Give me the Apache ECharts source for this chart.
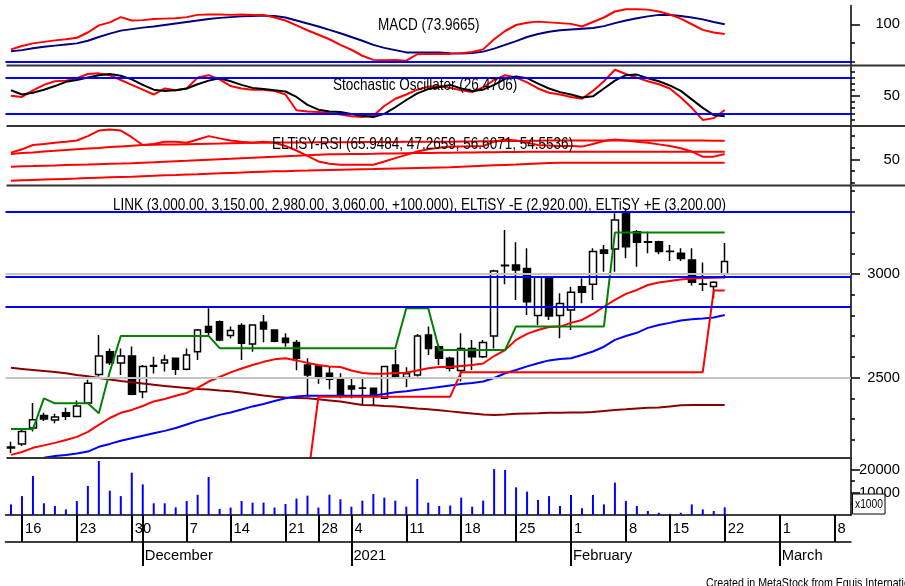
<!DOCTYPE html>
<html><head><meta charset="utf-8">
<script src="https://cdn.jsdelivr.net/npm/echarts@6/dist/echarts.min.js"></script>
<style>html,body{margin:0;padding:0;background:#fff;}#c{width:905px;height:586px;}</style>
</head><body><div id="c"></div>
<script>
// ---------- DATA ----------
const dates = ['2020-11-13','2020-11-16','2020-11-17','2020-11-18','2020-11-19','2020-11-20','2020-11-23','2020-11-24','2020-11-25','2020-11-26','2020-11-27','2020-11-30',
'2020-12-01','2020-12-02','2020-12-03','2020-12-04','2020-12-07','2020-12-08','2020-12-10','2020-12-11','2020-12-14','2020-12-15','2020-12-16','2020-12-17','2020-12-18','2020-12-21','2020-12-22','2020-12-23','2020-12-28','2020-12-29','2020-12-30',
'2021-01-04','2021-01-05','2021-01-06','2021-01-07','2021-01-08','2021-01-11','2021-01-12','2021-01-13','2021-01-14','2021-01-15','2021-01-18','2021-01-19','2021-01-20','2021-01-21','2021-01-22','2021-01-25','2021-01-26','2021-01-27','2021-01-28','2021-01-29',
'2021-02-01','2021-02-02','2021-02-03','2021-02-04','2021-02-05','2021-02-08','2021-02-09','2021-02-10','2021-02-11','2021-02-15','2021-02-16','2021-02-17','2021-02-18','2021-02-19','2021-02-22'];
const futureDates = ['2021-02-23','2021-02-24','2021-02-25','2021-02-26','2021-03-01','2021-03-02','2021-03-03','2021-03-04','2021-03-05','2021-03-08','2021-03-09'];
const monthNames = ['January','February','March','April','May','June','July','August','September','October','November','December'];

const open  = [2160,2180,2257,2317,2295,2330,2312,2378,2515,2625,2570,2604,2432,2555,2570,2593,2540,2625,2746,2770,2703,2751,2662,2767,2730,2690,2669,2561,2556,2521,2492,2460,2448,2449,2400,2561,2500,2513,2706,2649,2593,2534,2641,2601,2701,3040,3043,3027,2800,2987,2800,2826,2939,2950,3116,3121,3300,3204,3155,3156,3110,3100,3068,2950,2940,3000];
const high  = [2190,2250,2378,2330,2325,2355,2390,2490,2706,2641,2641,2650,2561,2600,2610,2595,2641,2735,2835,2775,2746,2762,2757,2802,2732,2714,2682,2593,2560,2556,2521,2497,2497,2452,2556,2633,2550,2710,2746,2658,2601,2714,2682,2682,3020,3212,3153,3124,2990,2990,2907,2939,2979,3124,3140,3293,3317,3212,3204,3160,3140,3124,3124,3056,2965,3150];
const low   = [2135,2170,2240,2290,2280,2295,2310,2373,2505,2561,2513,2415,2400,2520,2530,2513,2535,2585,2706,2675,2690,2585,2625,2671,2671,2649,2535,2408,2470,2444,2400,2400,2368,2368,2395,2497,2453,2505,2609,2561,2529,2481,2537,2595,2640,2950,2875,2802,2754,2778,2690,2730,2859,2875,3011,3011,3076,3035,3100,3095,3063,3063,2944,2918,2883,2980];
const close = [2165,2240,2296,2300,2310,2313,2363,2473,2604,2572,2604,2420,2553,2558,2585,2540,2609,2730,2719,2682,2727,2666,2754,2735,2676,2669,2593,2513,2502,2492,2416,2445,2450,2420,2553,2505,2518,2701,2641,2593,2545,2641,2601,2669,3014,3042,3019,2866,2987,2797,2857,2912,2912,3108,3100,3260,3132,3153,3153,3108,3108,3075,2960,2952,2960,3060];
const volume = [4700,8400,17300,5200,4000,2500,6200,12900,24000,10800,8400,18800,13600,5200,5200,3400,6200,9000,16900,2700,3300,6200,5500,5500,3300,4900,7300,8600,3300,9000,7000,3700,6400,9300,7700,6400,3700,16000,5500,4000,4200,7700,3700,6400,20400,20000,12300,10400,6700,8400,4000,8900,3000,8900,4700,14400,6200,4000,1800,1000,500,1000,4700,2500,1800,3400];

const maFast = [2127,2141,2161,2173,2185,2199,2214,2238,2272,2305,2330,2344,2363,2385,2397,2412,2426,2450,2481,2503,2525,2544,2561,2576,2588,2593,2583,2571,2561,2554,2551,2534,2522,2518,2518,2522,2523,2534,2545,2551,2551,2556,2561,2568,2604,2633,2682,2711,2730,2744,2746,2764,2778,2807,2842,2875,2904,2923,2947,2959,2966,2973,2978,2981,2982,2983];
const maMid  = [2088,2098,2105,2113,2122,2127,2134,2143,2166,2180,2195,2207,2219,2231,2243,2257,2274,2291,2305,2320,2332,2346,2361,2373,2387,2400,2409,2413,2413,2413,2413,2413,2413,2414,2421,2429,2434,2441,2448,2455,2462,2469,2474,2481,2498,2521,2537,2554,2569,2583,2590,2593,2609,2626,2649,2682,2701,2716,2740,2754,2764,2776,2781,2785,2790,2802];
const maSlow = [2547,2542,2537,2532,2527,2521,2513,2506,2498,2491,2484,2478,2472,2465,2460,2455,2450,2445,2443,2438,2434,2428,2421,2414,2408,2404,2402,2400,2395,2390,2385,2376,2368,2366,2363,2361,2356,2351,2347,2342,2337,2332,2327,2322,2320,2322,2325,2327,2328,2330,2330,2331,2332,2334,2339,2344,2347,2351,2354,2356,2361,2366,2368,2368,2368,2368];
const eltisyPlus  = [2252,2252,2252,2400,2376,2376,2376,2376,2328,2529,2701,2701,2701,2701,2701,2701,2701,2701,2701,2642,2642,2642,2642,2642,2642,2642,2642,2642,2642,2642,2642,2642,2642,2642,2642,2642,2835,2835,2835,2633,2633,2633,2633,2633,2633,2633,2747,2747,2747,2747,2747,2747,2747,2747,2747,3200,3200,3200,3200,3200,3200,3200,3200,3200,3200,3200];
const eltisyMinus = [null,null,null,null,null,null,null,null,null,null,null,null,null,null,null,null,null,null,null,null,null,null,null,null,null,null,null,2000,2408,2408,2408,2408,2408,2408,2408,2408,2408,2408,2408,2408,2408,2526,2526,2526,2526,2526,2526,2526,2526,2526,2526,2526,2526,2526,2526,2526,2526,2526,2526,2526,2526,2526,2526,2526,2920,2920];
const priceLevels = [3300, 2985, 2840];
const priceGrey = [3000, 2500];

const macd   = [33,42,49,53,57,60,64,78,97,105,119,110,111,114,115,116,119,125,126,126,125,126,125,125,118,110,97,84,72,60,45,32,16,5,4,5,3,20,21,21,21,23,26,33,60,82,98,104,107,105,103,101,94,106,118,134,140,140,139,134,126,115,100,85,78,73.9665];
const signal = [28,31,36,40,43,46,49,56,66,75,83,87,91,94,98,102,106,110,114,117,119,121,122,123,122,118,110,102,94,85,76,66,56,45,37,31,25,25,25,25,23,22,23,27,35,45,55,66,74,80,84,86,88,90,95,103,110,116,121,125,125,122,118,113,106,100];
const stochK = [50,48,59,68,74,75,79,86,87,84,76,68,60,52,62,59,62,80,84,77,66,62,60,60,58,52,26,24,23,21,19,16,15,17,33,45,52,60,65,66,63,59,56,64,76,84,80,72,62,55,52,48,45,58,74,93,86,80,74,69,62,47,30,10,13,26.4706];
const stochD = [59,52,55,60,66,73,76,80,84,86,83,77,68,60,58,59,62,69,75,79,74,68,63,61,59,57,48,35,27,24,23,20,17,15,20,31,43,54,61,64,68,62,58,60,68,78,82,79,70,62,56,52,47,49,62,75,84,85,79,74,67,58,44,30,18,16];
const rsi    = [55.8,58.6,62.3,63.2,64.2,65.1,66.1,69.8,74.5,75.4,74.5,68.9,62.3,63.2,65.1,65.1,64.2,67,69.8,67.9,66.1,65.1,64.2,65.1,64.2,61.4,57.6,53,48.3,46.4,45.5,45.5,45.5,45.5,48.3,51.1,53.9,56.7,58.6,60,60.9,60.9,61.2,61.4,65.1,67,66.1,64.2,62.3,61.9,61.4,61.4,60.9,63.2,65.6,67,66.1,65.1,64.2,62.8,61.4,59.5,56.7,52.4,52.4,54.5536];
const rsiB   = [54.7,55.4,56,56.7,57.3,58,58.6,59.2,59.8,60.5,61.1,61.7,62.3,62.5,62.7,62.8,63,63.2,63.4,63.5,63.7,63.9,64.1,64.2,64.3,64.4,64.5,64.5,64.6,64.6,64.7,64.7,64.8,64.8,64.9,64.9,65,65,65,65.1,65.1,65.2,65.3,65.4,65.5,65.6,65.7,65.8,65.9,66,66,66,66,66,66,66,66,66,66,66,66,66,66,66,65.95,65.9484];
const rsiC   = [43.9,44.2,44.4,44.7,44.9,45.2,45.5,45.7,46,46.3,46.5,46.8,47.2,47.6,48.1,48.5,48.9,49.4,49.8,50.2,50.6,51.1,51.5,51.9,52.3,52.7,53.1,53.6,54,54.4,54.5,54.6,54.7,54.8,55,55.1,55.3,55.4,55.5,55.7,55.8,55.9,56,56.1,56.2,56.3,56.4,56.5,56.5,56.6,56.6,56.6,56.6,56.6,56.6,56.6,56.6,56.6,56.6,56.6,56.6,56.6,56.6,56.6,56.6,56.6071];
const rsiD   = [32,32.3,32.6,32.9,33.2,33.5,33.8,34.2,34.5,34.8,35.1,35.4,35.8,36.1,36.5,36.8,37.2,37.5,37.9,38.2,38.6,38.9,39.3,39.6,39.9,40.1,40.4,40.6,40.9,41.1,41.3,41.5,41.7,41.9,42.2,42.4,42.6,42.8,43,43.2,43.4,43.8,44.2,44.6,45,45.4,45.7,46.1,46.5,46.9,47.3,47.3,47.3,47.3,47.3,47.3,47.3,47.3,47.3,47.3,47.3,47.3,47.3,47.3,47.3,47.2659];

const macdTicks = {minor:[0,50], major:[100]};
const stochTicks = {minor:[10,20,30,40,60,70,80,90], major:[50]};
const stochLevels = [80, 20];
const rsiTicks = {minor:[30,40,60,70], major:[50]};
const priceTicks = {minor:[2200,2300,2400,2600,2700,2800,2900,3100,3200,3300,3400], major:[2500,3000]};
const volTicks = {minor:[5000,15000], major:[10000,20000]};

// ---------- FONT ----------
function hasFont(name){
  const ctx=document.createElement('canvas').getContext('2d');
  const s='mmmmmmmmmmlli1WQ0123456789abcdef';
  let diff=false;
  ['monospace','serif'].forEach(b=>{
    ctx.font='72px '+b; const a=ctx.measureText(s).width;
    ctx.font='72px "'+name+'", '+b; const c=ctx.measureText(s).width;
    if(Math.abs(a-c)>0.5) diff=true;
  });
  return diff;
}
const NARROW = hasFont('Liberation Sans Narrow');
const FF = NARROW ? '"Liberation Sans Narrow", "Liberation Sans", sans-serif' : '"Liberation Sans", Arial, sans-serif';
const K = NARROW ? 1 : 0.82;   // axis label size factor when no narrow face exists
const SX = NARROW ? 1 : 0.82;  // horizontal squeeze for free text

// ---------- BUILD ----------
const cats = dates.concat(futureDates);
const weekLabelIdx = new Set(), weekTickIdx = new Set(), monthIdx = new Set();
cats.forEach((d,i)=>{
  const dt = new Date(d+'T00:00:00Z');
  if (dt.getUTCDay()===1){ weekLabelIdx.add(i); weekTickIdx.add(i); }
  if (i>0 && d.slice(5,7)!==cats[i-1].slice(5,7)){ monthIdx.add(i); weekTickIdx.add(i); }
});
const candles = open.map((o,i)=>[o, close[i], low[i], high[i]]);

const L = 5.5, R = 54;
const grids = [
  {left:L,right:R,top:5.5,height:60},
  {left:L,right:R,top:65.5,height:60.5},
  {left:L,right:R,top:126,height:59.5},
  {left:L,right:R,top:185.5,height:272.5},
  {left:L,right:R,top:458,height:57}
];
const BLACK='#000';
function hiddenX(g){ return {type:'category',gridIndex:g,data:cats,boundaryGap:true,show:false,axisLine:{onZero:false}}; }
const xAxes = [hiddenX(0),hiddenX(1),hiddenX(2),hiddenX(3),
  {type:'category',gridIndex:4,data:cats,boundaryGap:true,position:'bottom',
   axisLine:{show:true,onZero:false,lineStyle:{color:BLACK,width:1.5}},
   axisTick:{show:true,alignWithLabel:true,interval:(i)=>weekTickIdx.has(i),length:27,lineStyle:{color:BLACK,width:2}},
   axisLabel:{show:true,interval:(i)=>weekLabelIdx.has(i),formatter:(v)=>String(+v.slice(8)),align:'left',padding:[0,0,0,3],margin:6,
     fontSize:18*K,fontFamily:FF,color:BLACK},
   splitLine:{show:false}},
  {type:'category',gridIndex:4,data:cats,boundaryGap:true,position:'bottom',offset:27,
   axisLine:{show:true,onZero:false,lineStyle:{color:BLACK,width:1.5}},
   axisTick:{show:true,alignWithLabel:true,interval:(i)=>monthIdx.has(i),length:24,lineStyle:{color:BLACK,width:2}},
   axisLabel:{show:true,interval:(i)=>monthIdx.has(i),formatter:(v)=>{const m=+v.slice(5,7);return m===1?v.slice(0,4):monthNames[m-1];},align:'left',padding:[0,0,0,2],margin:6,
     fontSize:18*K,fontFamily:FF,color:BLACK},
   splitLine:{show:false}}
];
function yPair(g,min,max,ticks){
  return [
    {type:'value',gridIndex:g,position:'right',min,max,scale:true,
     axisLine:{show:true,lineStyle:{color:BLACK,width:1.5}},
     axisTick:{show:true,customValues:ticks.minor,length:4,lineStyle:{color:BLACK,width:1.5}},
     axisLabel:{show:false},splitLine:{show:false}},
    {type:'value',gridIndex:g,position:'right',min,max,scale:true,
     axisLine:{show:false},
     axisTick:{show:true,customValues:ticks.major,length:9,lineStyle:{color:BLACK,width:1.5}},
     axisLabel:{show:true,customValues:ticks.major,formatter:(v)=>String(v),align:'right',margin:49,
       fontSize:18*K,fontFamily:FF,color:BLACK},
     splitLine:{show:false}}
  ];
}
const yAxes = [].concat(
  yPair(0,-10,150,macdTicks),
  yPair(1,0,100,stochTicks),
  yPair(2,27.9,78.4,rsiTicks),
  yPair(3,2112,3427,priceTicks),
  yPair(4,0,25333,volTicks)
);
function line(name,g,data,color,width,extra){
  return Object.assign({type:'line',name,xAxisIndex:g,yAxisIndex:g*2,data,showSymbol:false,symbol:'none',
    lineStyle:{color,width},itemStyle:{color},silent:true,z:3,connectNulls:false},extra||{});
}
function ml(values,color){
  return {silent:true,symbol:['none','none'],label:{show:false},animation:false,
    lineStyle:{color,width:2,type:'solid'},data:values.map(v=>({yAxis:v}))};
}
const series = [
  line('Signal',0,signal,'#000080',2,{markLine:ml([0],'#0000ff')}),
  line('MACD',0,macd,'#ff0000',2),
  line('%K',1,stochK,'#ff0000',2,{markLine:ml(stochLevels,'#0000ff')}),
  line('%D',1,stochD,'#000000',2),
  line('RSI D',2,rsiD,'#ff0000',2),
  line('RSI C',2,rsiC,'#ff0000',2),
  line('RSI B',2,rsiB,'#ff0000',2),
  line('RSI',2,rsi,'#ff0000',2),
  {type:'candlestick',name:'LINK',xAxisIndex:3,yAxisIndex:6,data:candles,barWidth:7,silent:true,z:2,
   itemStyle:{color:'#ffffff',color0:'#000000',borderColor:'#000000',borderColor0:'#000000',borderWidth:1.5}},
  line('grey',3,[],'#c0c0c0',2,{markLine:ml(priceGrey,'#c4c4c4'),z:1}),
  line('MA slow',3,maSlow,'#8b0000',2),
  line('MA mid',3,maMid,'#0000ff',2),
  line('MA fast',3,maFast,'#ff0000',2),
  line('ELTiSY +E',3,eltisyPlus,'#008000',2),
  line('ELTiSY -E',3,eltisyMinus,'#ff0000',2,{markLine:ml(priceLevels,'#0000ff')}),
  {type:'bar',name:'Volume',xAxisIndex:4,yAxisIndex:8,data:volume,barWidth:2,silent:true,itemStyle:{color:'#0000ff'}}
];
function txt(text,x,y,size,va){
  return {type:'text',z:100,silent:true,x,y,scaleX:SX,originX:0,
    style:{text,x:0,y:0,fill:BLACK,fontSize:size,fontFamily:FF,align:'left',verticalAlign:va||'middle'}};
}
function hl(x1,x2,y,color,w){ return {type:'line',z:90,silent:true,shape:{x1,y1:y,x2,y2:y},style:{stroke:color,lineWidth:w}}; }
const graphic = [
  hl(6.5,905,65.5,'#333',2), hl(6.5,905,126,'#333',2), hl(6.5,905,185.5,'#333',2), hl(6.5,851,458,'#333',2),
  txt('MACD (73.9665)',378,25,16.5),
  txt('Stochastic Oscillator (26.4706)',333,85.5,16.5),
  txt('ELTiSY-RSI (65.9484, 47.2659, 56.6071, 54.5536)',272,144.5,16.5),
  txt('LINK (3,000.00, 3,150.00, 2,980.00, 3,060.00, +100.000), ELTiSY -E (2,920.00), ELTiSY +E (3,200.00)',113,205,16.5),
  {type:'rect',z:100,silent:true,shape:{x:852.5,y:494,width:32.5,height:20},style:{fill:'#fff',stroke:BLACK,lineWidth:1}},
  Object.assign(txt('x1000',855,504.5,12.5),{z:101}),
  txt('Created in MetaStock from Equis International',706,576.5,13,'top')
];

const chart = echarts.init(document.getElementById('c'),null,{renderer:'canvas'});
chart.setOption({animation:false,backgroundColor:'#ffffff',grid:grids,xAxis:xAxes,yAxis:yAxes,series,graphic});
</script></body></html>
